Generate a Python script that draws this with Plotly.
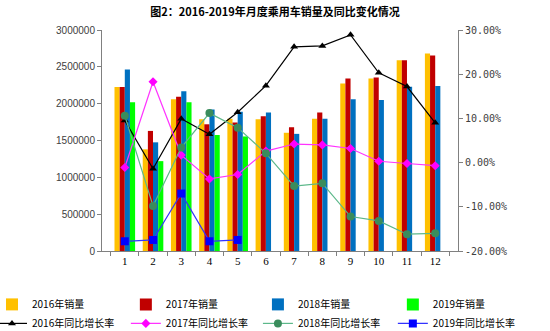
import plotly.graph_objects as go

months = [str(i) for i in range(1, 13)]

sales_2016 = [2225000, 1380000, 2060000, 1790000, 1795000, 1790000, 1605000, 1795000, 2275000, 2340000, 2590000, 2680000]
sales_2017 = [2225000, 1630000, 2095000, 1720000, 1745000, 1830000, 1680000, 1880000, 2340000, 2355000, 2590000, 2655000]
sales_2018 = [2465000, 1475000, 2170000, 1920000, 1890000, 1880000, 1590000, 1795000, 2060000, 2050000, 2230000, 2240000]
sales_2019 = [2020000, 1220000, 2020000, 1575000, 1555000, None, None, None, None, None, None, None]

yoy_2016 = [9.5, -1.4, 9.9, 6.4, 11.4, 17.4, 26.2, 26.4, 28.9, 20.3, 17.2, 9.0]
yoy_2017 = [-1.1, 18.3, 1.7, -3.7, -2.7, 2.6, 4.2, 4.0, 3.2, 0.3, -0.2, -0.7]
yoy_2018 = [10.6, -9.8, 3.4, 11.2, 7.9, 2.1, -5.3, -4.7, -12.2, -13.2, -16.2, -16.0]
yoy_2019 = [-17.8, -17.5, -7.0, -17.8, -17.5, None, None, None, None, None, None, None]

left_ticks = [0, 500000, 1000000, 1500000, 2000000, 2500000, 3000000]
right_ticks = [-20, -10, 0, 10, 20, 30]
right_labels = ["-20.00%", "-10.00%", "0.00%", "10.00%", "20.00%", "30.00%"]

legend_ids = ["legend", "legend2", "legend3", "legend4"]

fig = go.Figure()

bar_specs = [
    ("2016年销量", sales_2016, "#FFC000"),
    ("2017年销量", sales_2017, "#C00000"),
    ("2018年销量", sales_2018, "#0070C0"),
    ("2019年销量", sales_2019, "#00FF00"),
]
for i, (name, vals, col) in enumerate(bar_specs):
    fig.add_trace(go.Bar(x=months, y=vals, name=name, legend=legend_ids[i],
                         marker=dict(color=col, line=dict(width=0))))

line_specs = [
    ("2016年同比增长率", yoy_2016, "#000000", "#000000", "triangle-up", 7),
    ("2017年同比增长率", yoy_2017, "#FF33FF", "#FF00FF", "diamond", 7),
    ("2018年同比增长率", yoy_2018, "#5CB88A", "#3A8C5C", "circle", 8),
    ("2019年同比增长率", yoy_2019, "#3333FF", "#0000FF", "square", 8),
]
for i, (name, vals, lc, mc, sym, sz) in enumerate(line_specs):
    fig.add_trace(go.Scatter(x=months, y=vals, name=name, yaxis="y2", mode="lines+markers",
                             legend=legend_ids[i],
                             line=dict(color=lc, width=1.2),
                             marker=dict(color=mc, symbol=sym, size=sz)))

axis_font = dict(family="Liberation Sans, Arial", size=10, color="#404040")
legend_font = dict(family="Noto Sans CJK SC", size=10, color="#000000")

legend_x = [-0.309, 0.067, 0.438, 0.817]
legends = {}
for lid, lx in zip(legend_ids, legend_x):
    legends[lid] = dict(orientation="v", x=lx, xanchor="left", y=-0.176, yanchor="top",
                        traceorder="normal", font=legend_font, itemwidth=30,
                        tracegroupgap=0, bgcolor="rgba(0,0,0,0)")

fig.update_layout(
    width=550, height=331,
    margin=dict(l=102, r=92, t=30, b=80, autoexpand=False),
    paper_bgcolor="white", plot_bgcolor="white",
    title=dict(text="<b>图2：2016-2019年月度乘用车销量及同比变化情况</b>",
               x=0.5, xanchor="center", y=0.975, yanchor="top",
               font=dict(family="Noto Sans CJK SC", size=11, color="#000000")),
    barmode="group", bargap=0.27, bargroupgap=0,
    xaxis=dict(type="category", showgrid=False, showline=True, linecolor="#808080",
               ticks="outside", tickson="boundaries", ticklen=4, tickcolor="#808080",
               tickfont=dict(family="Liberation Serif, Times New Roman", size=11, color="#000000")),
    yaxis=dict(range=[0, 3000000], tickvals=left_ticks, ticktext=[str(v) for v in left_ticks],
               showgrid=False, showline=True, linecolor="#808080", ticks="outside",
               ticklen=4, tickcolor="#808080", tickfont=axis_font, zeroline=False),
    yaxis2=dict(range=[-20, 30], overlaying="y", side="right", tickvals=right_ticks,
                ticktext=right_labels, showgrid=False, showline=True, linecolor="#808080",
                ticks="outside", ticklen=4, tickcolor="#808080", zeroline=False,
                tickfont=dict(family="DejaVu Sans Mono", size=10, color="#404040")),
    showlegend=True,
    **legends,
)

fig.write_html("out.html")
